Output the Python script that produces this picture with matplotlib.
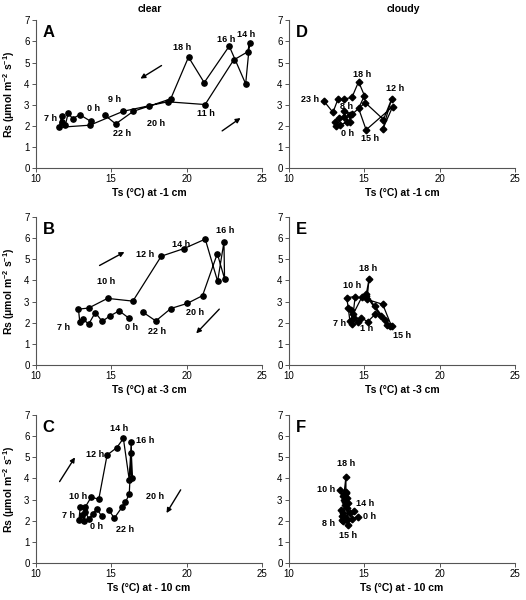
import matplotlib
matplotlib.use("Agg")
import matplotlib.pyplot as plt

plt.rcParams['font.family'] = ['Liberation Sans', 'DejaVu Sans']
plt.rcParams['mathtext.fontset'] = 'custom'
plt.rcParams['mathtext.rm'] = 'Liberation Sans'
plt.rcParams['mathtext.bf'] = 'Liberation Sans:bold'

# hourly values, 0 h ... 23 h
# clear day
ts_a = [13.63, 12.92, 12.44, 12.15, 11.97, 11.77, 11.71, 11.55, 13.59, 15.80, 18.75, 21.23,
        23.12, 24.05, 24.18, 23.92, 22.83, 21.17, 20.13, 18.95, 17.50, 16.47, 15.30, 14.60]
rs_a = [2.22, 2.53, 2.34, 2.61, 2.06, 2.17, 2.45, 1.93, 2.03, 2.69, 3.14, 3.01,
        5.12, 5.51, 5.92, 3.99, 5.78, 4.05, 5.26, 3.28, 2.93, 2.69, 2.09, 2.50]
ts_b = [16.18, 15.53, 14.93, 14.40, 13.95, 13.50, 13.14, 12.92, 12.83, 13.50, 14.76, 16.44,
        18.32, 19.82, 21.24, 22.06, 22.48, 22.52, 22.04, 21.06, 20.04, 18.96, 17.96, 17.08]
rs_b = [2.21, 2.56, 2.32, 2.06, 2.48, 1.92, 2.19, 2.03, 2.64, 2.69, 3.15, 3.02,
        5.15, 5.51, 5.96, 3.96, 5.82, 4.08, 5.27, 3.28, 2.91, 2.67, 2.08, 2.51]
ts_c = [14.38, 14.05, 13.78, 13.52, 13.28, 13.23, 13.08, 12.86, 12.95, 13.28, 13.67, 14.18,
        14.73, 15.37, 15.81, 16.20, 16.33, 16.38, 16.33, 16.20, 15.94, 15.72, 15.21, 14.84]
rs_c = [2.20, 2.56, 2.33, 2.08, 2.42, 1.97, 2.28, 2.01, 2.64, 2.64, 3.11, 3.02,
        5.11, 5.46, 5.90, 3.93, 5.74, 4.01, 5.22, 3.26, 2.86, 2.64, 2.12, 2.50]
# cloudy day
ts_d = [13.88, 13.37, 13.11, 13.06, 13.30, 13.63, 14.07, 14.03, 13.63, 14.20, 15.07, 16.28,
        16.83, 16.23, 16.89, 15.13, 14.63, 15.02, 14.63, 14.19, 13.63, 13.26, 12.93, 12.31]
rs_d = [2.16, 2.05, 1.97, 2.20, 2.35, 2.41, 2.16, 2.49, 2.72, 2.55, 3.10, 2.30,
        3.29, 1.84, 2.91, 1.81, 2.83, 3.43, 4.09, 3.35, 3.26, 3.26, 2.64, 3.19]
ts_e = [15.73, 15.23, 14.80, 14.58, 14.32, 14.14, 14.21, 14.05, 13.95, 13.84, 14.40, 14.27,
        14.86, 15.14, 16.54, 16.82, 16.23, 15.19, 15.32, 15.14, 15.69, 16.39, 16.71, 16.10]
rs_e = [2.40, 2.04, 2.24, 2.04, 2.20, 2.59, 1.93, 2.09, 2.68, 3.19, 3.23, 2.40,
        3.23, 3.26, 1.88, 1.82, 2.87, 3.10, 4.05, 3.35, 2.79, 2.13, 1.82, 2.30]
ts_f = [14.57, 14.16, 13.88, 13.77, 13.61, 13.57, 13.53, 13.44, 13.50, 13.70, 13.39, 13.57,
        13.66, 13.83, 13.92, 13.92, 13.79, 13.66, 13.79, 13.79, 13.70, 13.83, 14.09, 14.35]
rs_f = [2.18, 2.08, 2.05, 2.13, 2.36, 1.97, 2.21, 2.49, 2.05, 2.76, 3.47, 3.15,
        3.00, 3.07, 2.84, 1.81, 3.31, 3.25, 4.07, 3.35, 2.90, 2.60, 2.36, 2.44]

# hour labels (text, x, y)
labels_a = [('7 h', 10.98, 2.37), ('0 h', 13.85, 2.81), ('9 h', 15.24, 3.27), ('22 h', 15.69, 1.65),
            ('20 h', 18.01, 2.10), ('11 h', 21.26, 2.57), ('18 h', 19.73, 5.73), ('16 h', 22.61, 6.10),
            ('14 h', 23.98, 6.35)]
labels_b = [('16 h', 22.57, 6.39), ('14 h', 19.65, 5.72), ('12 h', 17.26, 5.23), ('10 h', 14.65, 3.95),
            ('20 h', 20.58, 2.48), ('22 h', 18.03, 1.60), ('0 h', 16.37, 1.79), ('7 h', 11.84, 1.76)]
labels_c = [('14 h', 15.54, 6.37), ('16 h', 17.26, 5.79), ('12 h', 13.96, 5.14), ('10 h', 12.79, 3.15),
            ('20 h', 17.92, 3.15), ('7 h', 12.18, 2.23), ('0 h', 14.05, 1.73), ('22 h', 15.94, 1.60)]
labels_d = [('23 h', 11.39, 3.27), ('18 h', 14.87, 4.45), ('8 h', 13.85, 2.91), ('12 h', 17.07, 3.78),
            ('0 h', 13.92, 1.65), ('15 h', 15.40, 1.42)]
labels_e = [('18 h', 15.28, 4.55), ('10 h', 14.19, 3.77), ('7 h', 13.38, 1.98), ('1 h', 15.19, 1.73),
            ('15 h', 17.54, 1.41)]
labels_f = [('18 h', 13.83, 4.73), ('10 h', 12.45, 3.50), ('14 h', 15.04, 2.81), ('0 h', 15.36, 2.18),
            ('8 h', 12.61, 1.86), ('15 h', 13.92, 1.29)]

fig = plt.figure(figsize=(5.26, 6), dpi=100)

left_col, right_col = 0.068, 0.549
w = 0.430
rows = [0.720, 0.392, 0.062]
h = 0.246


def panel(pos, ts, rs, marker, letter, xlabel, labels, ylabel=True):
    ax = fig.add_axes([pos[0], pos[1], w, h])
    ax.plot(ts, rs, color='black', lw=0.9, marker=marker,
            ms=3.8 if marker == 'o' else 3.4, mfc='black', mec='black')
    for t, x, y in labels:
        ax.text(x, y, t, fontsize=6.5, fontweight='bold', ha='center', va='center')
    ax.set_xlim(10, 25)
    ax.set_ylim(0, 7)
    ax.set_xticks([10, 15, 20, 25])
    ax.set_yticks(range(8))
    ax.spines['top'].set_visible(False)
    ax.spines['right'].set_visible(False)
    for s in ['left', 'bottom']:
        ax.spines[s].set_color('#555555')
        ax.spines[s].set_linewidth(0.8)
    ax.tick_params(labelsize=7, length=3, width=0.7, pad=1.5, color='#555555')
    ax.set_xlabel(xlabel, fontsize=7.5, fontweight='bold', labelpad=2.5)
    if ylabel:
        ax.set_ylabel(r'Rs ($\mathbf{\mu}$mol m$\mathbf{^{-2}}$ s$\mathbf{^{-1}}$)',
                      fontsize=7.5, fontweight='bold', labelpad=5)
    ax.text(0.03, 0.92, letter, transform=ax.transAxes, fontsize=12,
            fontweight='bold', ha='left', va='center')
    return ax


def arrow(ax, start, end):
    ax.annotate('', xy=end, xytext=start,
                arrowprops=dict(arrowstyle='-|>', color='black', lw=1.0,
                                mutation_scale=7, shrinkA=0, shrinkB=0))


ax_a = panel((left_col, rows[0]), ts_a, rs_a, 'o', 'A', 'Ts (°C) at -1 cm', labels_a)
arrow(ax_a, (18.34, 4.86), (16.94, 4.24))
arrow(ax_a, (22.36, 1.76), (23.58, 2.37))

ax_b = panel((left_col, rows[1]), ts_b, rs_b, 'o', 'B', 'Ts (°C) at -3 cm', labels_b)
arrow(ax_b, (14.23, 4.71), (15.88, 5.35))
arrow(ax_b, (22.17, 2.64), (20.64, 1.49))

ax_c = panel((left_col, rows[2]), ts_c, rs_c, 'o', 'C', 'Ts (°C) at - 10 cm', labels_c)
arrow(ax_c, (11.58, 3.85), (12.60, 5.00))
arrow(ax_c, (19.61, 3.46), (18.67, 2.36))

panel((right_col, rows[0]), ts_d, rs_d, 'D', 'D', 'Ts (°C) at -1 cm', labels_d, ylabel=False)
panel((right_col, rows[1]), ts_e, rs_e, 'D', 'E', 'Ts (°C) at -3 cm', labels_e, ylabel=False)
panel((right_col, rows[2]), ts_f, rs_f, 'D', 'F', 'Ts (°C) at - 10 cm', labels_f, ylabel=False)

fig.text(150 / 526, 1 - 9 / 600, 'clear', fontsize=7.5, fontweight='bold', ha='center', va='center')
fig.text(403 / 526, 1 - 9 / 600, 'cloudy', fontsize=7.5, fontweight='bold', ha='center', va='center')

fig.savefig('out.png', dpi=100)
